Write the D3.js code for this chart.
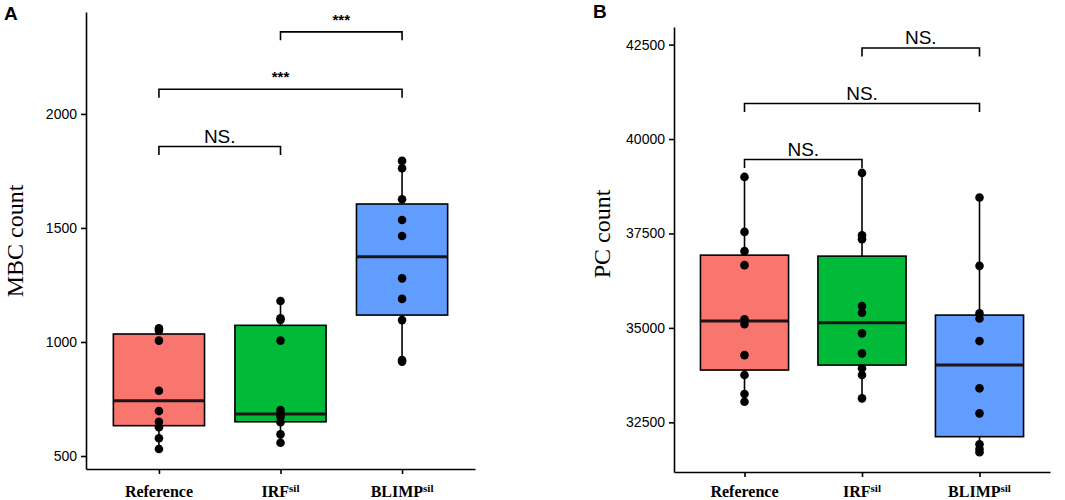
<!DOCTYPE html>
<html>
<head>
<meta charset="utf-8">
<script src="https://cdn.jsdelivr.net/npm/d3@7"></script>
<style>
  body { margin: 0; background: #fff; }
  svg { display: block; }
</style>
</head>
<body>
<div id="chart"></div>
<script>
const width = 1065, height = 500;

// groups and superscripts
const groups = ["Reference", "IRF", "BLIMP"];
const groupSup = ["", "sil", "sil"];
const groupColors = ["#F8766D", "#00BA38", "#619CFF"];

// panel A: MBC count
const mbcTicks = [500, 1000, 1500, 2000];
const mbcPoints = [
  [1060, 1050, 1006, 786, 697, 650, 626, 578, 531],
  [1180, 1104, 1097, 1006, 702, 687, 672, 648, 595, 558],
  [1794, 1762, 1626, 1535, 1465, 1279, 1189, 1096, 921, 914]
];
const mbcQ1 = [633, 650, 1118];
const mbcMedian = [742, 684, 1374];
const mbcQ3 = [1035, 1073, 1605];
const mbcPairs = [[0, 1], [0, 2], [1, 2]];
const mbcSigLabels = ["NS.", "***", "***"];
const mbcSigHeights = [1857, 2108, 2360];

// panel B: PC count
const pcTicks = [32500, 35000, 37500, 40000, 42500];
const pcPoints = [
  [38997, 37542, 37032, 36661, 35230, 35100, 34280, 33751, 33250, 33045],
  [39103, 37450, 37350, 35577, 35400, 34855, 34325, 33930, 33751, 33135],
  [38452, 36643, 35384, 35251, 34651, 33400, 32738, 31918, 31794, 31706]
];
const pcQ1 = [33884, 34016, 32120];
const pcMedian = [35180, 35135, 34016];
const pcQ3 = [36926, 36900, 35339];
const pcPairs = [[0, 1], [0, 2], [1, 2]];
const pcSigLabels = ["NS.", "NS.", "NS."];
const pcSigHeights = [39458, 40939, 42410];

const svg = d3.select("#chart")
  .append("svg")
  .attr("width", width)
  .attr("height", height)
  .attr("viewBox", [0, 0, width, height]);

function drawPanel(p) {
  const g = svg.append("g");

  let x = d3.scalePoint()
    .domain(groups)
    .range([p.left, p.right])
    .padding(0.6);

  let y = d3.scaleLinear()
    .domain(p.domain)
    .range([p.bottom, p.top]);

  const bw = x.step() * 0.75;

  // y axis
  let ya = g.append("g")
    .attr("transform", `translate(${p.left},0)`)
    .call(d3.axisLeft(y).tickValues(p.ticks).tickFormat(d3.format("d"))
      .tickSize(5).tickSizeOuter(0).tickPadding(4));
  ya.selectAll("path, line").attr("stroke", "#000").attr("stroke-width", 1.6);
  ya.selectAll("text")
    .attr("font-family", "Liberation Sans, Arial, sans-serif")
    .attr("font-size", 14)
    .attr("fill", "#000");

  // x axis
  let xa = g.append("g")
    .attr("transform", `translate(0,${p.bottom})`)
    .call(d3.axisBottom(x).tickSize(5).tickSizeOuter(0).tickFormat(""));
  xa.selectAll("path, line").attr("stroke", "#000").attr("stroke-width", 1.6);

  const lab = g.selectAll(".xlab")
    .data(groups)
    .join("text")
    .attr("class", "xlab")
    .attr("x", d => x(d))
    .attr("y", 497)
    .attr("text-anchor", "middle")
    .attr("font-family", "Liberation Serif, Times New Roman, serif")
    .attr("font-weight", "bold")
    .attr("font-size", 16)
    .attr("fill", "#000");
  lab.append("tspan").text(d => d);
  lab.append("tspan")
    .attr("dy", -5)
    .attr("font-size", 11)
    .text((d, i) => groupSup[i]);

  // boxes
  groups.forEach((grp, i) => {
    const pts = p.points[i];
    const lo = d3.min(pts), hi = d3.max(pts);
    const cx = x(grp);

    g.append("line")
      .attr("x1", cx).attr("x2", cx)
      .attr("y1", y(hi)).attr("y2", y(p.q3[i]))
      .attr("stroke", "#000").attr("stroke-width", 1.6);
    g.append("line")
      .attr("x1", cx).attr("x2", cx)
      .attr("y1", y(p.q1[i])).attr("y2", y(lo))
      .attr("stroke", "#000").attr("stroke-width", 1.6);

    g.append("rect")
      .attr("x", cx - bw / 2)
      .attr("y", y(p.q3[i]))
      .attr("width", bw)
      .attr("height", y(p.q1[i]) - y(p.q3[i]))
      .attr("fill", groupColors[i])
      .attr("stroke", "#000")
      .attr("stroke-width", 1.6);

    g.append("line")
      .attr("x1", cx - bw / 2).attr("x2", cx + bw / 2)
      .attr("y1", y(p.median[i])).attr("y2", y(p.median[i]))
      .attr("stroke", "#1c1418").attr("stroke-width", 3);

    g.selectAll(null)
      .data(pts)
      .join("circle")
      .attr("cx", cx)
      .attr("cy", d => y(d))
      .attr("r", 4.3)
      .attr("fill", "#000");
  });

  // significance brackets
  p.pairs.forEach((pr, i) => {
    const x1 = x(groups[pr[0]]), x2 = x(groups[pr[1]]);
    const yy = y(p.sigHeights[i]);
    g.append("path")
      .attr("d", `M${x1},${yy + 8.5}V${yy}H${x2}V${yy + 8.5}`)
      .attr("fill", "none")
      .attr("stroke", "#000")
      .attr("stroke-width", 1.6);
    const stars = p.sigLabels[i] === "***";
    g.append("text")
      .attr("x", (x1 + x2) / 2)
      .attr("y", stars ? yy - 7 : yy - 4)
      .attr("text-anchor", "middle")
      .attr("font-family", "Liberation Sans, Arial, sans-serif")
      .attr("font-size", stars ? 15 : 19)
      .attr("font-weight", stars ? "bold" : "normal")
      .attr("fill", "#000")
      .text(p.sigLabels[i]);
  });

  // y label
  g.append("text")
    .attr("transform", `translate(${p.ylabX},${p.ylabY}) rotate(-90)`)
    .attr("text-anchor", "middle")
    .attr("font-family", "Liberation Serif, Times New Roman, serif")
    .attr("font-size", 24)
    .attr("fill", "#000")
    .text(p.ylab);

  // panel tag
  g.append("text")
    .attr("x", p.tagX)
    .attr("y", p.tagY)
    .attr("font-family", "Liberation Sans, Arial, sans-serif")
    .attr("font-weight", "bold")
    .attr("font-size", 19)
    .attr("fill", "#000")
    .text(p.tag);
}

drawPanel({
  left: 86, right: 475, top: 12, bottom: 469,
  domain: [443, 2447], ticks: mbcTicks,
  points: mbcPoints, q1: mbcQ1, median: mbcMedian, q3: mbcQ3,
  pairs: mbcPairs, sigLabels: mbcSigLabels, sigHeights: mbcSigHeights,
  ylab: "MBC count", ylabX: 23, ylabY: 241,
  tag: "A", tagX: 4, tagY: 20
});

drawPanel({
  left: 674, right: 1050, top: 27, bottom: 472,
  domain: [31185, 42966], ticks: pcTicks,
  points: pcPoints, q1: pcQ1, median: pcMedian, q3: pcQ3,
  pairs: pcPairs, sigLabels: pcSigLabels, sigHeights: pcSigHeights,
  ylab: "PC count", ylabX: 610, ylabY: 234,
  tag: "B", tagX: 593, tagY: 18
});
</script>
</body>
</html>
